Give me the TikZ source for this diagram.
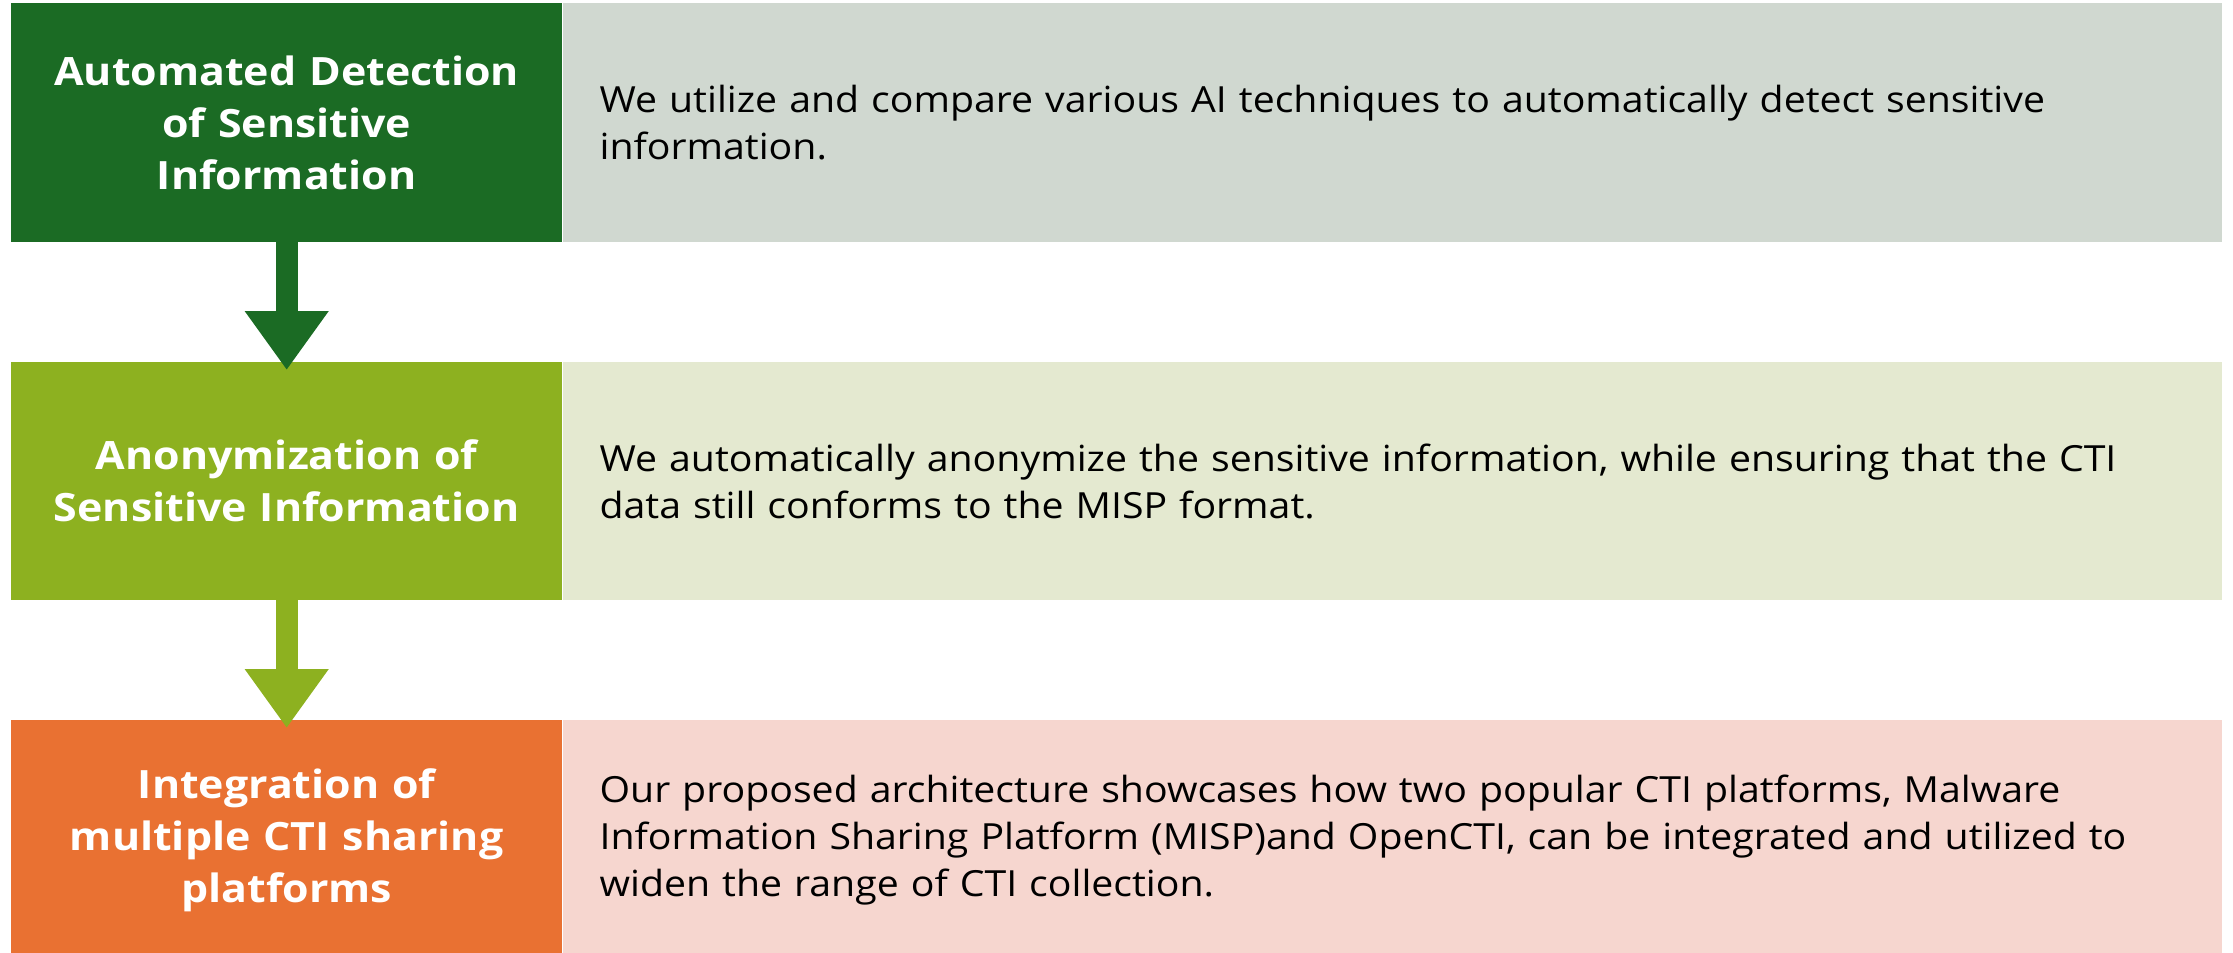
\documentclass[tikz,border=0pt]{standalone}
\usepackage{fontspec}
\setmainfont[FakeStretch=1.09]{Open Sans}
\newfontfamily\headfont[FakeStretch=1.1]{Open Sans}
\usetikzlibrary{arrows.meta,calc}

\definecolor{stepA}{HTML}{1B6B24}
\definecolor{stepAbg}{HTML}{D0D8D0}
\definecolor{stepB}{HTML}{8DB120}
\definecolor{stepBbg}{HTML}{E4E9D0}
\definecolor{stepC}{HTML}{E97132}
\definecolor{stepCbg}{HTML}{F6D6CF}

\begin{document}
\begin{tikzpicture}[x=1pt,y=-1pt,
  headbox/.style={rectangle, inner sep=0pt, anchor=north west,
    minimum width=551pt, text width=540pt, align=center, text=white,
    font=\headfont\bfseries\fontsize{39}{52}\selectfont},
  descbox/.style={rectangle, inner ysep=0pt, inner xsep=37pt, anchor=north west,
    minimum width=1659pt, text width=1585pt, align=left, text=black,
    font=\fontsize{36}{47}\selectfont},
  flow/.style={line width=22pt, -{Triangle[length=59pt,width=80pt]}}
]
\useasboundingbox (0,0) rectangle (2233,953);

% row 1
\node[headbox, fill=stepA, minimum height=239pt] (h1) at (11,3)
  {Automated Detection\\ of Sensitive\\ Information};
\node[descbox, fill=stepAbg, minimum height=239pt] (d1) at (h1.north east)
  {We utilize and compare various AI techniques to automatically detect sensitive\\
   information.};

% row 2
\node[headbox, fill=stepB, minimum height=238pt] (h2) at (11,362)
  {Anonymization of\\ Sensitive Information};
\node[descbox, fill=stepBbg, minimum height=238pt] (d2) at (h2.north east)
  {We automatically anonymize the sensitive information, while ensuring that the CTI\\
   data still conforms to the MISP format.};

% row 3 (runs past the lower page edge)
\node[headbox, fill=stepC, minimum height=240pt] (h3) at (11,720)
  {Integration of\\ multiple CTI sharing\\ platforms};
\node[descbox, fill=stepCbg, minimum height=240pt] (d3) at (h3.north east)
  {Our proposed architecture showcases how two popular CTI platforms, Malware\\
   Information Sharing Platform (MISP)and OpenCTI, can be integrated and utilized to\\
   widen the range of CTI collection.};

% connectors
\draw[flow, draw=stepA, fill=stepA] (h1.south) -- ($(h2.north)+(0,8)$);
\draw[flow, draw=stepB, fill=stepB] (h2.south) -- ($(h3.north)+(0,8)$);
\end{tikzpicture}
\end{document}
